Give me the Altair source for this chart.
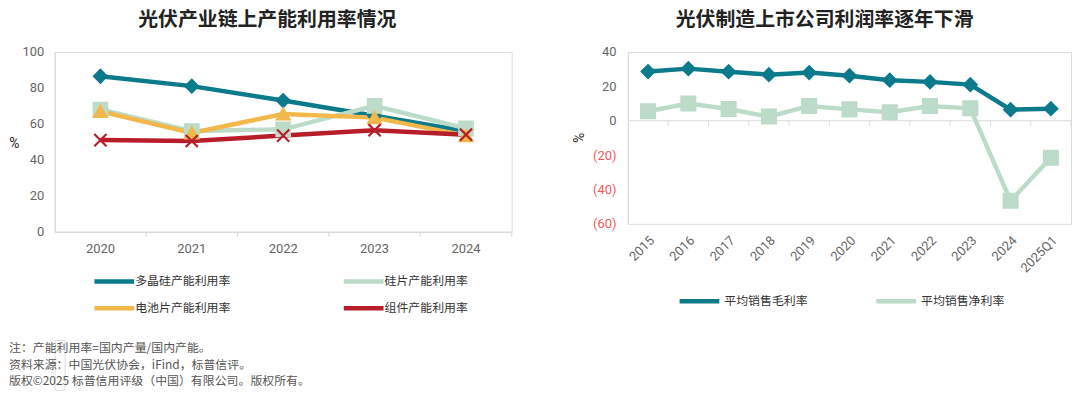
import altair as alt
import pandas as pd

# ---------------- data ----------------
years_left = ["2020", "2021", "2022", "2023", "2024"]
series_left = ["多晶硅产能利用率", "硅片产能利用率", "电池片产能利用率", "组件产能利用率"]
poly = [86.5, 81.0, 73.0, 64.5, 56.0]
wafer = [68.0, 56.0, 57.0, 70.0, 57.5]
cell = [67.0, 55.0, 65.5, 63.5, 53.5]
module = [51.0, 50.5, 53.5, 56.5, 54.0]

years_right = ["2015", "2016", "2017", "2018", "2019", "2020", "2021", "2022",
               "2023", "2024", "2025Q1"]
series_right = ["平均销售毛利率", "平均销售净利率"]
gross = [28.6, 30.3, 28.5, 26.8, 28.0, 26.2, 23.6, 22.6, 21.0, 6.4, 7.0]
net = [5.5, 10.0, 6.8, 2.4, 8.6, 6.6, 4.9, 8.6, 7.2, -46.6, -21.6]

notes = ["注：产能利用率=国内产量/国内产能。",
         "资料来源：中国光伏协会，iFind，标普信评。",
         "版权©2025 标普信用评级（中国）有限公司。版权所有。"]

TEAL = "#0b7a8b"
MINT = "#bcdcc9"
GOLD = "#f2b84b"
RED = "#b81d2a"
CJK = "Noto Sans CJK SC"
NUM = "Roboto"
XPATH = "M-1,-1L1,1M1,-1L-1,1"
LEG_SYM = "M-3,0L3,0"

rows = []
for s, vals in zip(series_left, [poly, wafer, cell, module]):
    for y, v in zip(years_left, vals):
        rows.append({"year": y, "series": s, "value": v})
df_left = pd.DataFrame(rows)

rows = []
for s, vals in zip(series_right, [gross, net]):
    for y, v in zip(years_right, vals):
        rows.append({"yr": y, "series2": s, "val": v})
df_right = pd.DataFrame(rows)

# ---------------- left chart ----------------
LW, LH = 460, 181
xscale_l = alt.Scale(type="band", paddingInner=0, paddingOuter=0)
xaxis_l = alt.Axis(title=None, labelAngle=0, ticks=False, domainColor="#d9d9d9",
                   labelColor="#666", labelFont=NUM, labelFontSize=13, labelPadding=11)
xl = alt.X("year:N", sort=years_left, scale=xscale_l, axis=xaxis_l)
yl = alt.Y("value:Q", scale=alt.Scale(domain=[0, 100], nice=False),
           axis=alt.Axis(values=[0, 20, 40, 60, 80, 100], grid=False, ticks=False,
                         labelOverlap=False,
                         domainColor="#d9d9d9", labelColor="#666", labelFont=NUM,
                         labelFontSize=13, labelPadding=11, title="%", titleAngle=0,
                         titleX=-41, titleY=92, titleAlign="center", titleBaseline="middle",
                         titleFont=NUM, titleFontSize=14, titleFontWeight="normal",
                         titleColor="#222"))

base_l = alt.Chart(df_left)
lines_l = base_l.mark_line(strokeWidth=4.5).encode(
    x=xl, y=yl,
    color=alt.Color("series:N", sort=series_left,
                    scale=alt.Scale(domain=series_left, range=[TEAL, MINT, GOLD, RED]),
                    legend=alt.Legend(title=None, orient="none", legendX=51, legendY=222,
                                      direction="horizontal",
                                      columns=2, symbolType=LEG_SYM, symbolStrokeWidth=4.5,
                                      symbolSize=178, labelFont=CJK, labelFontSize=12,
                                      labelColor="#333", columnPadding=103, rowPadding=9,
                                      labelOffset=12)),
)
marks_l = [("diamond", TEAL, 170, 2.0), ("square", MINT, 190, 2.0),
           ("triangle-up", GOLD, 170, 2.0), (XPATH, RED, 150, 2.2)]
pts_l = []
for s, (shp, col, sz, sw) in zip(series_left, marks_l):
    pts_l.append(
        base_l.transform_filter(alt.datum.series == s)
        .mark_point(filled=True, opacity=1, shape=shp, fill=col, stroke=col,
                    size=sz, strokeWidth=sw)
        .encode(x=xl, y=yl)
    )
ticks_l = alt.Chart(pd.DataFrame({"year": years_left})).mark_rule(color="#d9d9d9").encode(
    x=alt.X("year:N", sort=years_left, bandPosition=1, scale=xscale_l, axis=xaxis_l),
    y=alt.value(LH), y2=alt.value(LH + 5),
)
left = alt.layer(ticks_l, lines_l, *pts_l).properties(
    width=LW, height=LH,
    title=alt.TitleParams("光伏产业链上产能利用率情况", font=CJK, fontSize=20,
                          fontWeight="bold", color="#222", anchor="middle", offset=16,
                          dx=-16),
)

# ---------------- right chart ----------------
RW, RH = 446, 173
xscale_r = alt.Scale(type="band", paddingInner=0, paddingOuter=0)
xaxis_r = alt.Axis(title=None, labelAngle=-45, ticks=False, domain=False,
                   labelColor="#666", labelFont=NUM, labelFontSize=13, labelPadding=10)
xr = alt.X("yr:N", sort=years_right, scale=xscale_r, axis=xaxis_r)
yr = alt.Y("val:Q", scale=alt.Scale(domain=[-60, 40], nice=False),
           axis=alt.Axis(values=[-60, -40, -20, 0, 20, 40], grid=False, ticks=False,
                         labelOverlap=False, domainColor="#d9d9d9",
                         labelExpr="datum.value < 0 ? '(' + abs(datum.value) + ')' : datum.value",
                         labelColor={"condition": {"test": "datum.value < 0", "value": "#f05a5a"},
                                     "value": "#666"},
                         labelFont=NUM, labelFontSize=13, labelPadding=12,
                         title="%", titleX=-49, titleY=86, titleAlign="center",
                         titleBaseline="middle", titleFont=NUM, titleFontSize=14,
                         titleFontWeight="normal", titleColor="#222"))

base_r = alt.Chart(df_right)
ZERO_PX = RH * 40 / 100
zero_r = alt.Chart(pd.DataFrame({"z": [0]})).mark_rule(color="#dcdcdc", strokeWidth=1).encode(
    y=alt.value(ZERO_PX), x=alt.value(0), x2=alt.value(RW))
ticks_r = alt.Chart(pd.DataFrame({"yr": years_right})).mark_rule(color="#dcdcdc").encode(
    x=alt.X("yr:N", sort=years_right, bandPosition=1, scale=xscale_r, axis=xaxis_r),
    y=alt.value(ZERO_PX), y2=alt.value(ZERO_PX + 5),
)
lines_r = base_r.mark_line(strokeWidth=4.5).encode(
    x=xr, y=yr,
    color=alt.Color("series2:N", sort=series_right,
                    scale=alt.Scale(domain=series_right, range=[TEAL, MINT]),
                    legend=alt.Legend(title=None, orient="none", legendX=63, legendY=242,
                                      direction="horizontal",
                                      symbolType=LEG_SYM, symbolStrokeWidth=4.5,
                                      symbolSize=178, labelFont=CJK, labelFontSize=12,
                                      labelColor="#333", columnPadding=58,
                                      labelOffset=16)),
)
marks_r = [("diamond", TEAL, 170, 2.0), ("square", MINT, 200, 2.0)]
pts_r = []
for s, (shp, col, sz, sw) in zip(series_right, marks_r):
    pts_r.append(
        base_r.transform_filter(alt.datum.series2 == s)
        .mark_point(filled=True, opacity=1, shape=shp, fill=col, stroke=col,
                    size=sz, strokeWidth=sw)
        .encode(x=xr, y=yr)
    )
right = alt.layer(zero_r, ticks_r, lines_r, *pts_r).properties(
    width=RW, height=RH,
    title=alt.TitleParams("光伏制造上市公司利润率逐年下滑", font=CJK, fontSize=20,
                          fontWeight="bold", color="#222", anchor="middle", offset=16,
                          dx=-25),
)

top = alt.hconcat(left, right, spacing=59).resolve_scale(
    color="independent", x="independent", y="independent",
).resolve_legend(color="independent")

# ---------------- notes ----------------
notes_df = pd.DataFrame({"t": notes, "i": [0, 1, 2]})
notes_chart = alt.Chart(notes_df).mark_text(
    align="left", baseline="middle", font=CJK, fontSize=12, color="#555"
).encode(
    x=alt.value(-46),
    y=alt.Y("i:O", axis=None, scale=alt.Scale(paddingInner=0, paddingOuter=0.1)),
    text="t:N",
).properties(width=10, height=50)

chart = alt.vconcat(top, notes_chart, spacing=21).properties(padding=0).configure_view(
    stroke=None
).configure(background="white")

chart.save("out.html", embed_options={"renderer": "svg", "actions": False})
